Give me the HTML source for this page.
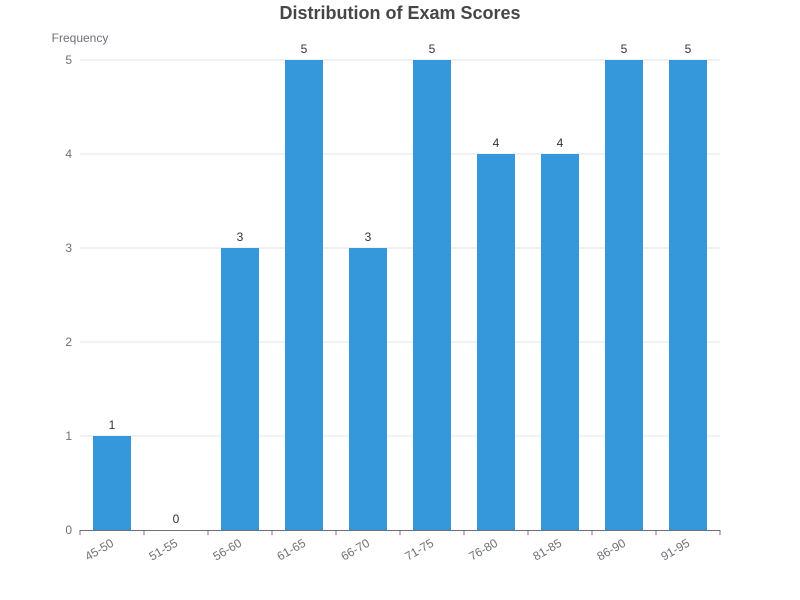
<!DOCTYPE html>
<html><head><meta charset="utf-8"><style>body{margin:0;background:#fff}svg{display:block;font-family:"Liberation Sans",sans-serif}</style></head>
<body>
<svg id="chart" width="800" height="600">
<text x="400" y="19" text-anchor="middle" font-size="18" font-weight="bold" fill="#464646">Distribution of Exam Scores</text>
<text x="80" y="42" text-anchor="middle" font-size="12" fill="#6e7079">Frequency</text>
<g id="grid"></g><g id="bars"></g><g id="axes"></g>
</svg>
<script>
const categories=["45-50","51-55","56-60","61-65","66-70","71-75","76-80","81-85","86-90","91-95"];
const values=[1,0,3,5,3,5,4,4,5,5];
const yTicks=[0,1,2,3,4,5];
const NS="http://www.w3.org/2000/svg";
const L=80,R=720,T=60,B=530,yMax=5;
const band=(R-L)/categories.length;
const xC=i=>L+band*(i+0.5);
const y=v=>B-(v/yMax)*(B-T);
function mk(tag,attrs,parent,txt){const e=document.createElementNS(NS,tag);for(const k in attrs)e.setAttribute(k,attrs[k]);if(txt!==undefined)e.textContent=txt;parent.appendChild(e);return e;}
const grid=document.getElementById('grid'),bars=document.getElementById('bars'),axes=document.getElementById('axes');
yTicks.forEach(t=>{
 if(t>0){const g=mk('line',{x1:L,x2:R,y1:y(t),y2:y(t),stroke:'#e0e6f1'},grid);
 
 }
 const l=mk('text',{x:L-8,y:y(t)+4,'text-anchor':'end','font-size':12,fill:'#6e7079'},axes,t);
 
 
});
const bw=38;
categories.forEach((c,i)=>{
 const v=values[i];
 const r=mk('rect',{x:xC(i)-bw/2,y:y(v),width:bw,height:B-y(v),fill:'#3498db'},bars);
 
 
 const vl=mk('text',{x:xC(i),y:y(v)-7,'text-anchor':'middle','font-size':12,fill:'#333'},bars,v);
 
 
 const xl=mk('text',{x:xC(i),y:B+14,'text-anchor':'end','font-size':12,fill:'#6e7079',transform:`rotate(-30 ${xC(i)+4} ${B+10})`},axes,c);
 
 
});
for(let i=0;i<=categories.length;i++){
 const tk=mk('line',{x1:L+band*i,x2:L+band*i,y1:B,y2:B+5,stroke:'#6e7079'},axes);
 
 
}
const ax=mk('line',{x1:L,x2:R,y1:B+0.5,y2:B+0.5,stroke:'#6e7079'},axes);


</script>
</body></html>
